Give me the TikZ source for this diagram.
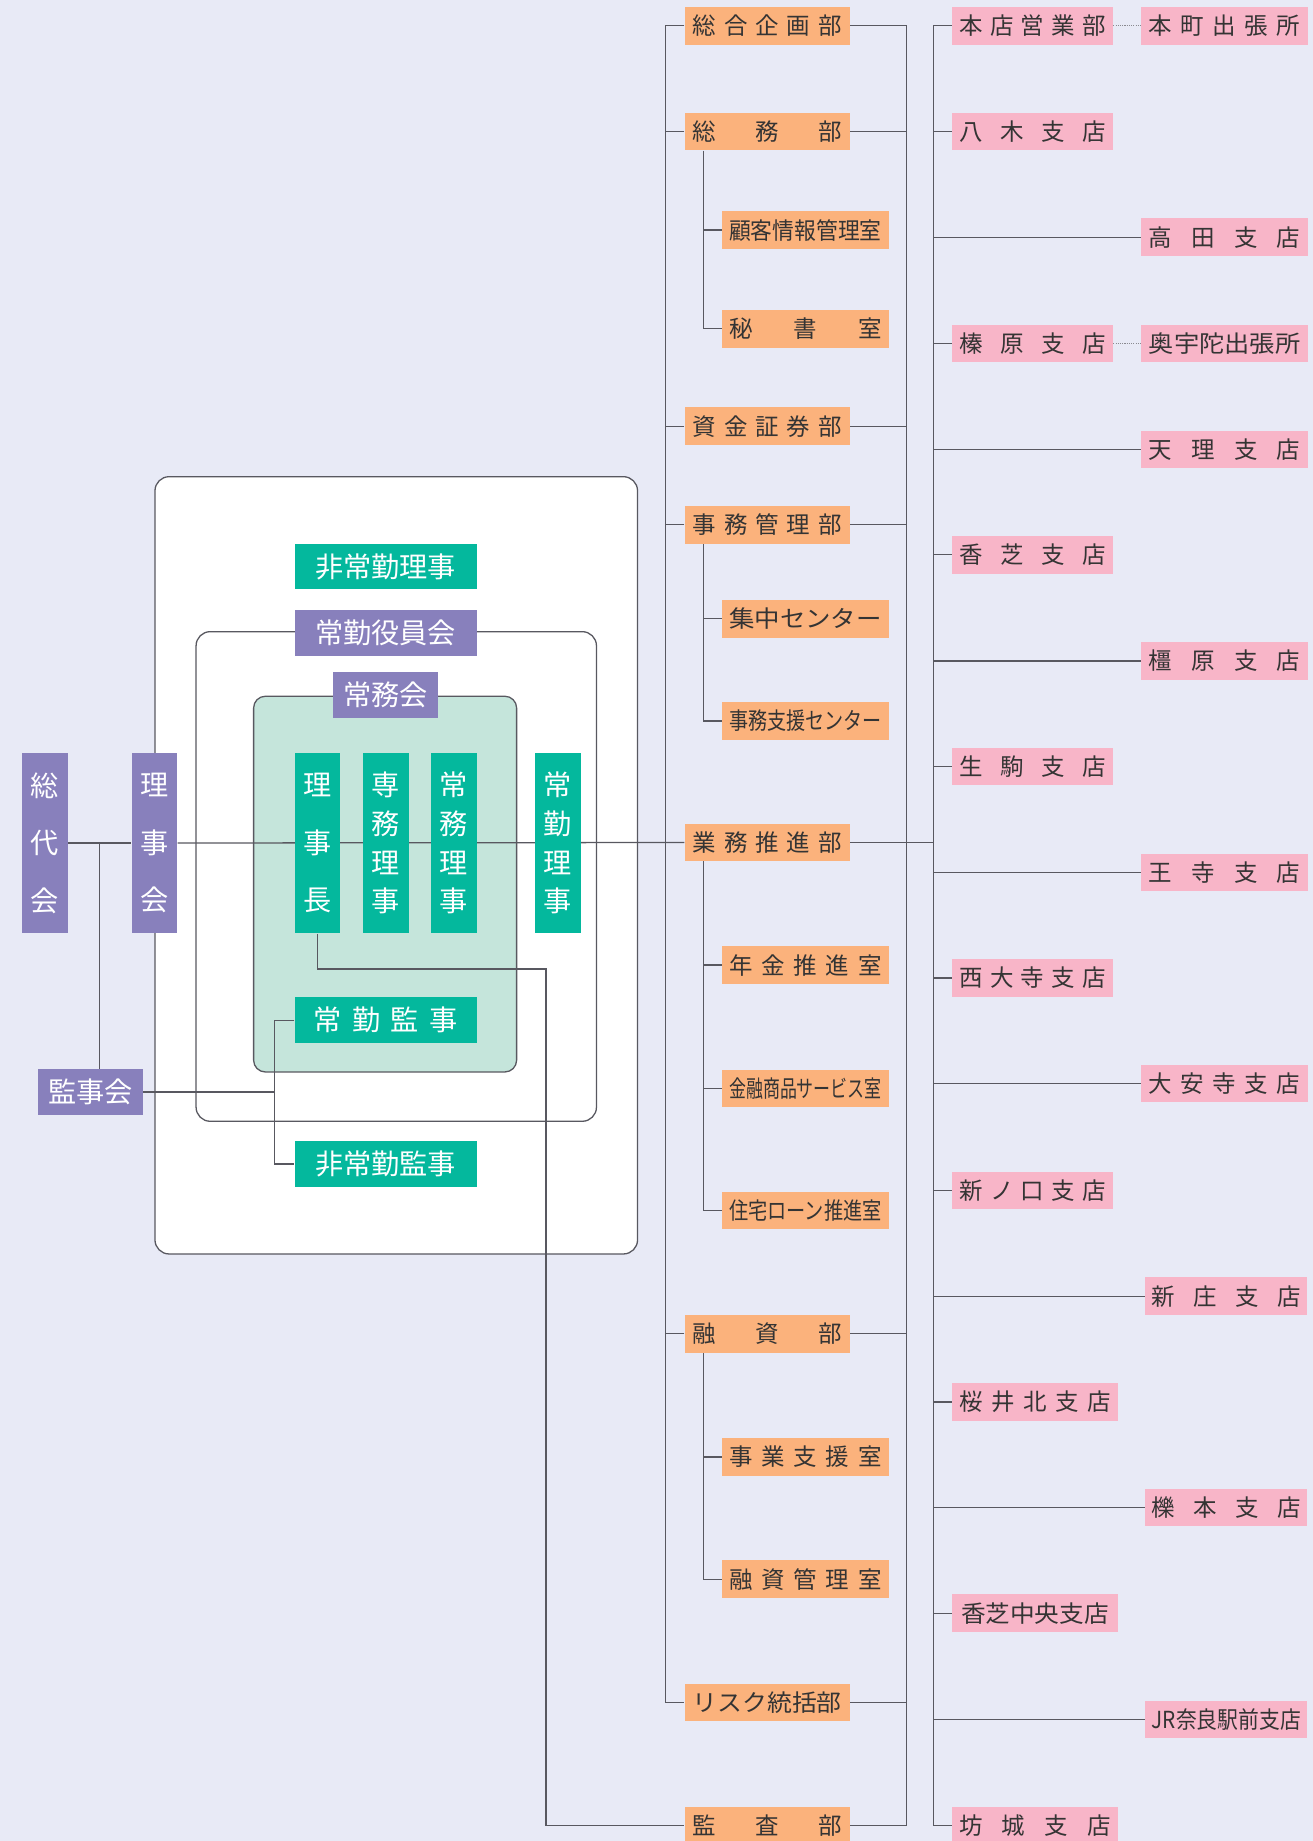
\documentclass[tikz,border=0pt]{standalone}
\usepackage{fontspec}
\setmainfont{Noto Sans CJK JP}
\usetikzlibrary{calc}
\definecolor{bgcol}{RGB}{232,234,246}
\definecolor{orgcol}{RGB}{251,178,124}
\definecolor{pnkcol}{RGB}{248,181,200}
\definecolor{tealcol}{RGB}{4,184,157}
\definecolor{purpcol}{RGB}{136,128,188}
\definecolor{mintcol}{RGB}{197,229,219}
\definecolor{inkcol}{RGB}{52,52,52}
\definecolor{linecol}{RGB}{88,88,96}
\pgfdeclarelayer{frames}
\pgfdeclarelayer{lines}
\pgfsetlayers{frames,lines,main}
\makeatletter
\def\spr@a#1#2{#1\ifx\relax#2\else\hfill\expandafter\spr@a\fi#2}
\newcommand{\spread}[2]{\makebox[#1][s]{\spr@a#2\relax}}
\makeatother
\newcommand{\squeeze}[2]{\resizebox{#1}{\height}{#2}}
\tikzset{dept/.style = {fill=orgcol, text=inkcol, minimum width=141, minimum height=32,
inner sep=0pt, font=\fontsize{20}{24}\selectfont}}
\tikzset{office/.style = {dept, minimum width=142}}
\tikzset{branch/.style = {fill=pnkcol, text=inkcol, minimum width=137, minimum height=32,
inner sep=0pt, font=\fontsize{20}{24}\selectfont}}
\tikzset{exec/.style = {fill=tealcol, text=white, minimum width=155, minimum height=39,
inner sep=0pt, font=\fontsize{24}{28}\selectfont}}
\tikzset{council/.style = {exec, fill=purpcol}}
\tikzset{tallexec/.style = {fill=tealcol, text=white, minimum width=39, minimum height=154,
inner sep=0pt, align=center, font=\fontsize{24}{33}\selectfont}}
\tikzset{tallcouncil/.style = {tallexec, fill=purpcol}}
\tikzset{link/.style = {draw=linecol, line width=1.1pt}}
\tikzset{dotlink/.style = {draw=linecol!70, line width=0.9pt, densely dotted}}
\tikzset{frame/.style = {draw=linecol, line width=1.1pt, rounded corners=12pt}}

\begin{document}
\begin{tikzpicture}[x=1pt, y=-1pt]
                \useasboundingbox (0,0) rectangle (1118,1568);

                % board side
                \node[tallcouncil] (sodai) at (38,718) {総\\[16pt]代\\[16pt]会};
                \node[tallcouncil] (rijikai) at (131.5,718) {理\\[16pt]事\\[16pt]会};
                \node[council, minimum width=90] (kanjikai) at (77,930) {監事会};
                \node[exec] (hijokinriji) at (328.5,482.5) {非常勤理事};
                \node[council] (yakuinkai) at (328.5,539) {常勤役員会};
                \node[council, minimum width=89] (jomukai) at (328.5,592) {常務会};
                \node[tallexec] (rijicho) at (270.5,718) {理\\[16pt]事\\[16pt]長};
                \node[tallexec] (senmu) at (328.5,718) {専\\務\\理\\事};
                \node[tallexec] (jomu) at (386.5,718) {常\\務\\理\\事};
                \node[tallexec] (jokinriji) at (475,718) {常\\勤\\理\\事};
                \node[exec] (jokinkanji) at (328.5,869) {\spread{123pt}{常勤監事}};
                \node[exec] (hijokinkanji) at (328.5,991.5) {非常勤監事};

                % departments
                \node[dept] (sogo) at (653.5,22) {\spread{127pt}{総合企画部}};
                \node[dept] (somu) at (653.5,112) {\spread{127pt}{総務部}};
                \node[office] (kokyaku) at (686,196) {\squeeze{130pt}{顧客情報管理室}};
                \node[office] (hisho) at (686,280) {\spread{130pt}{秘書室}};
                \node[dept] (shikin) at (653.5,363) {\spread{127pt}{資金証券部}};
                \node[dept] (jimu) at (653.5,447) {\spread{127pt}{事務管理部}};
                \node[office] (shuchu) at (686,527) {\squeeze{130pt}{集中センター}};
                \node[office] (jimushien) at (686,614) {\squeeze{130pt}{事務支援センター}};
                \node[dept] (gyomu) at (653.5,717.5) {\spread{127pt}{業務推進部}};
                \node[office] (nenkin) at (686,822) {\spread{130pt}{年金推進室}};
                \node[office] (kinyu) at (686,927) {\squeeze{130pt}{金融商品サービス室}};
                \node[office] (jutaku) at (686,1031) {\squeeze{130pt}{住宅ローン推進室}};
                \node[dept] (yushi) at (653.5,1136) {\spread{127pt}{融資部}};
                \node[office] (jigyo) at (686,1241) {\spread{130pt}{事業支援室}};
                \node[office] (yushikanri) at (686,1345) {\spread{130pt}{融資管理室}};
                \node[dept] (risk) at (653.5,1450) {\squeeze{127pt}{リスク統括部}};
                \node[dept] (kansa) at (653.5,1555) {\spread{127pt}{監査部}};

                % branches
                \node[branch] (honten) at (879.5,22) {\spread{125pt}{本店営業部}};
                \node[branch] (yagi) at (879.5,112) {\spread{125pt}{八木支店}};
                \node[branch] (haibara) at (879.5,292.5) {\spread{125pt}{榛原支店}};
                \node[branch] (kashiba) at (879.5,472.5) {\spread{125pt}{香芝支店}};
                \node[branch] (ikoma) at (879.5,653) {\spread{125pt}{生駒支店}};
                \node[branch] (saidaiji) at (879.5,833) {\spread{125pt}{西大寺支店}};
                \node[branch] (shinnokuchi) at (879.5,1014) {\spread{125pt}{新ノ口支店}};
                \node[branch, minimum width=141] (sakurai) at (881.5,1194) {\spread{129pt}{桜井北支店}};
                \node[branch, minimum width=141] (kashibachuo) at (881.5,1374) {\squeeze{126pt}{香芝中央支店}};
                \node[branch, minimum width=141] (bojo) at (881.5,1555) {\spread{129pt}{坊城支店}};
                \node[branch, minimum width=142] (honmachi) at (1043,22) {\spread{129pt}{本町出張所}};
                \node[branch, minimum width=142] (takada) at (1043,202) {\spread{129pt}{高田支店}};
                \node[branch, minimum width=142] (okuuda) at (1043,292.5) {\squeeze{129pt}{奥宇陀出張所}};
                \node[branch, minimum width=142] (tenri) at (1043,383) {\spread{129pt}{天理支店}};
                \node[branch, minimum width=142] (kashihara) at (1043,563) {\spread{129pt}{橿原支店}};
                \node[branch, minimum width=142] (oji) at (1043,743) {\spread{129pt}{王寺支店}};
                \node[branch, minimum width=142] (daianji) at (1043,923) {\spread{129pt}{大安寺支店}};
                \node[branch, minimum width=138] (shinjo) at (1044.5,1104) {\spread{127pt}{新庄支店}};
                \node[branch, minimum width=138] (ichinomoto) at (1044.5,1284) {\spread{127pt}{櫟本支店}};
                \node[branch, minimum width=138] (jrnara) at (1044.5,1464.5) {\squeeze{127pt}{JR奈良駅前支店}};

                \coordinate (kx) at (85,0);
                \coordinate (ax) at (234,0);
                \coordinate (auditx) at (465,0);
                \coordinate (lx) at (567,0);
                \coordinate (subx) at (599,0);
                \coordinate (rx) at (772,0);
                \coordinate (brx) at (795,0);

                \begin{pgfonlayer}{frames}
                \fill[bgcol] (0,0) rectangle (1118,1568);
                \filldraw[frame, fill=white] (132,406) rectangle (543,1068);
                \draw[frame] (167,538) rectangle (508,955);
                \filldraw[frame, fill=mintcol, rounded corners=10pt] (216,593) rectangle (440,913);
                \end{pgfonlayer}

                \begin{pgfonlayer}{lines}
                \draw[link] (sodai) to (rijikai);
                \draw[link] (rijikai) to (gyomu);
                \draw[link] (sodai.east -| kx) to (kanjikai.north -| kx);
                \draw[link] (kanjikai) to (kanjikai -| ax);
                \draw[link] (jokinkanji.west) -- (jokinkanji.west -| ax) |- (hijokinkanji.west);
                \draw[link] (rijicho.south) -- ++(0,30) -| (auditx |- kansa) -- (kansa.west);

                \draw[link] (sogo.west) -- (sogo.west -| lx) -- (risk.west -| lx) -- (risk.west);
                \draw[link] (sogo.east) -- (sogo.east -| rx) -- (kansa.east -| rx) -- (kansa.east);
                \foreach \d in {somu,shikin,jimu,yushi}
                    \draw[link] (\d.west) to (\d.west -| lx);
                \foreach \d in {somu,shikin,jimu,yushi,risk}
                    \draw[link] (\d.east) to (\d.east -| rx);
                \draw[link] (gyomu.east) to (gyomu.east -| brx);

                \draw[link] (somu.south -| subx) |- (hisho.west);
                \draw[link] (jimu.south -| subx) |- (jimushien.west);
                \draw[link] (gyomu.south -| subx) |- (jutaku.west);
                \draw[link] (yushi.south -| subx) |- (yushikanri.west);
                \foreach \o in {kokyaku,shuchu,nenkin,kinyu,jigyo}
                    \draw[link] (\o.west) to (\o.west -| subx);

                \draw[link] (honten.west) -- (honten.west -| brx) -- (bojo.west -| brx) -- (bojo.west);
                \foreach \b in {yagi,haibara,kashiba,ikoma,saidaiji,shinnokuchi,sakurai,kashibachuo,
                    takada,tenri,kashihara,oji,daianji,shinjo,ichinomoto,jrnara}
                    \draw[link] (\b.west) to (\b.west -| brx);
                \draw[dotlink] (honten) to (honmachi);
                \draw[dotlink] (haibara) to (okuuda);
                \end{pgfonlayer}
            \end{tikzpicture}
\end{document}
